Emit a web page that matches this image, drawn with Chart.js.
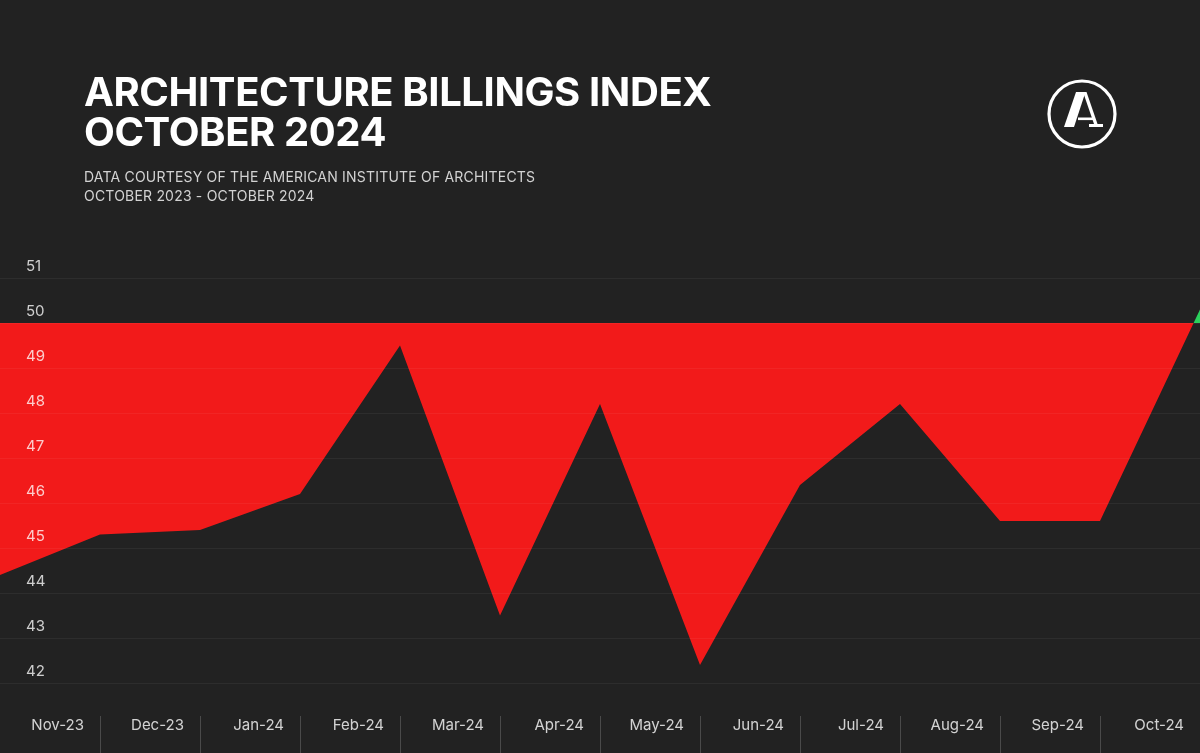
<!DOCTYPE html>
<html>
<head>
<meta charset="utf-8">
<script src="https://cdn.jsdelivr.net/npm/chart.js@4/dist/chart.umd.min.js"></script>
<style>
  html, body { margin: 0; padding: 0; background: #222222; }
  #wrap { position: relative; width: 1200px; height: 753px; overflow: hidden; background: #222222; }
  #chartBox { position: absolute; left: 0; top: 0; width: 1200px; height: 753px; }
  .title { position: absolute; left: 84px; top: 72px; color: #fff; font-family: Inter, sans-serif; font-weight: 700; font-size: 40px; line-height: 40px; letter-spacing: -0.4px; }
  .sub { position: absolute; left: 84px; top: 167px; color: #d2d2d2; font-family: Inter, sans-serif; font-weight: 400; font-size: 14px; line-height: 19px; letter-spacing: 0.2px; }
  #logo { position: absolute; left: 1044px; top: 76px; }
</style>
</head>
<body>
<div id="wrap">
  <div id="chartBox"><canvas id="abiChart"></canvas></div>
  <div class="title">ARCHITECTURE BILLINGS INDEX<br>OCTOBER 2024</div>
  <div class="sub">DATA COURTESY OF THE AMERICAN INSTITUTE OF ARCHITECTS<br>OCTOBER 2023 - OCTOBER 2024</div>
  <svg id="logo" width="76" height="76" viewBox="0 0 76 76">
    <circle cx="38" cy="38" r="33" fill="none" stroke="#fff" stroke-width="3.2"/>
    <polygon points="20,51 30,51 41.5,16 32,16" fill="#fff"/>
    <polygon points="39,16 42.5,16 53.5,48 50,48" fill="#fff"/>
    <rect x="45" y="48" width="14" height="3" fill="#fff"/>
    <rect x="34" y="41.5" width="16" height="2.6" fill="#fff"/>
  </svg>
</div>
<script>
// ABI values, Oct-23 .. Oct-24
const months = ["Oct-23", "Nov-23", "Dec-23", "Jan-24", "Feb-24", "Mar-24", "Apr-24",
                "May-24", "Jun-24", "Jul-24", "Aug-24", "Sep-24", "Oct-24"];
const abiValues = [44.4, 45.3, 45.4, 46.2, 49.5, 43.5, 48.2, 42.4, 46.4, 48.2, 45.6, 45.6, 50.3];
const yTicks = [42, 43, 44, 45, 46, 47, 48, 49, 50, 51];
const baseline = 50;

const RED = "#f21a1a";
const GREEN = "#2bd15c";

// little grey separators under the month labels
const separators = {
    id: "separators",
    afterDraw(chart) {
        const ctx = chart.ctx;
        const x = chart.scales.x;
        ctx.save();
        ctx.strokeStyle = "#4a4a4a";
        ctx.lineWidth = 1;
        for (let i = 1; i < months.length - 1; i++) {
            const px = Math.round(x.getPixelForTick(i)) + 0.5;
            ctx.beginPath();
            ctx.moveTo(px, 716);
            ctx.lineTo(px, chart.height);
            ctx.stroke();
        }
        ctx.restore();
    }
};

const ctx = document.getElementById("abiChart").getContext("2d");
const abiChart = new Chart(ctx, {
    type: "line",
    data: {
        labels: months,
        datasets: [{
            label: "ABI",
            data: abiValues,
            borderWidth: 0,
            pointRadius: 0,
            tension: 0,
            fill: { target: { value: baseline }, above: GREEN, below: RED }
        }]
    },
    options: {
        responsive: true,
        maintainAspectRatio: false,
        animation: false,
        devicePixelRatio: 1,
        layout: { autoPadding: false, padding: { top: 255.5, left: 0, right: 0, bottom: 0 } },
        plugins: { legend: { display: false }, tooltip: { enabled: false } },
        scales: {
            x: {
                type: "category",
                offset: false,
                grid: { display: false, drawTicks: false },
                border: { display: false },
                afterFit: s => { s.height = 47.5; s.paddingLeft = 0; s.paddingRight = 0; },
                ticks: {
                    color: "rgba(255,255,255,0.8)",
                    font: { family: "Inter", size: 15 },
                    align: "end",
                    labelOffset: -16,
                    padding: 10.5,
                    autoSkip: false,
                    maxRotation: 0,
                    callback: (v, i) => i === 0 ? "" : months[i]
                }
            },
            y: {
                min: 41.5,
                max: 51.5,
                afterFit: s => { s.width = 0; s.paddingTop = 0; s.paddingBottom = 0; },
                afterBuildTicks: s => { s.ticks = yTicks.map(v => ({ value: v })); },
                grid: { color: "rgba(255,255,255,0.05)", drawTicks: false, z: 1 },
                border: { display: false },
                ticks: {
                    z: 1,
                    mirror: true,
                    padding: 26,
                    labelOffset: -11.5,
                    color: "rgba(255,255,255,0.78)",
                    font: { family: "Inter", size: 15 }
                }
            }
        }
    },
    plugins: [separators]
});
</script>
</body>
</html>
